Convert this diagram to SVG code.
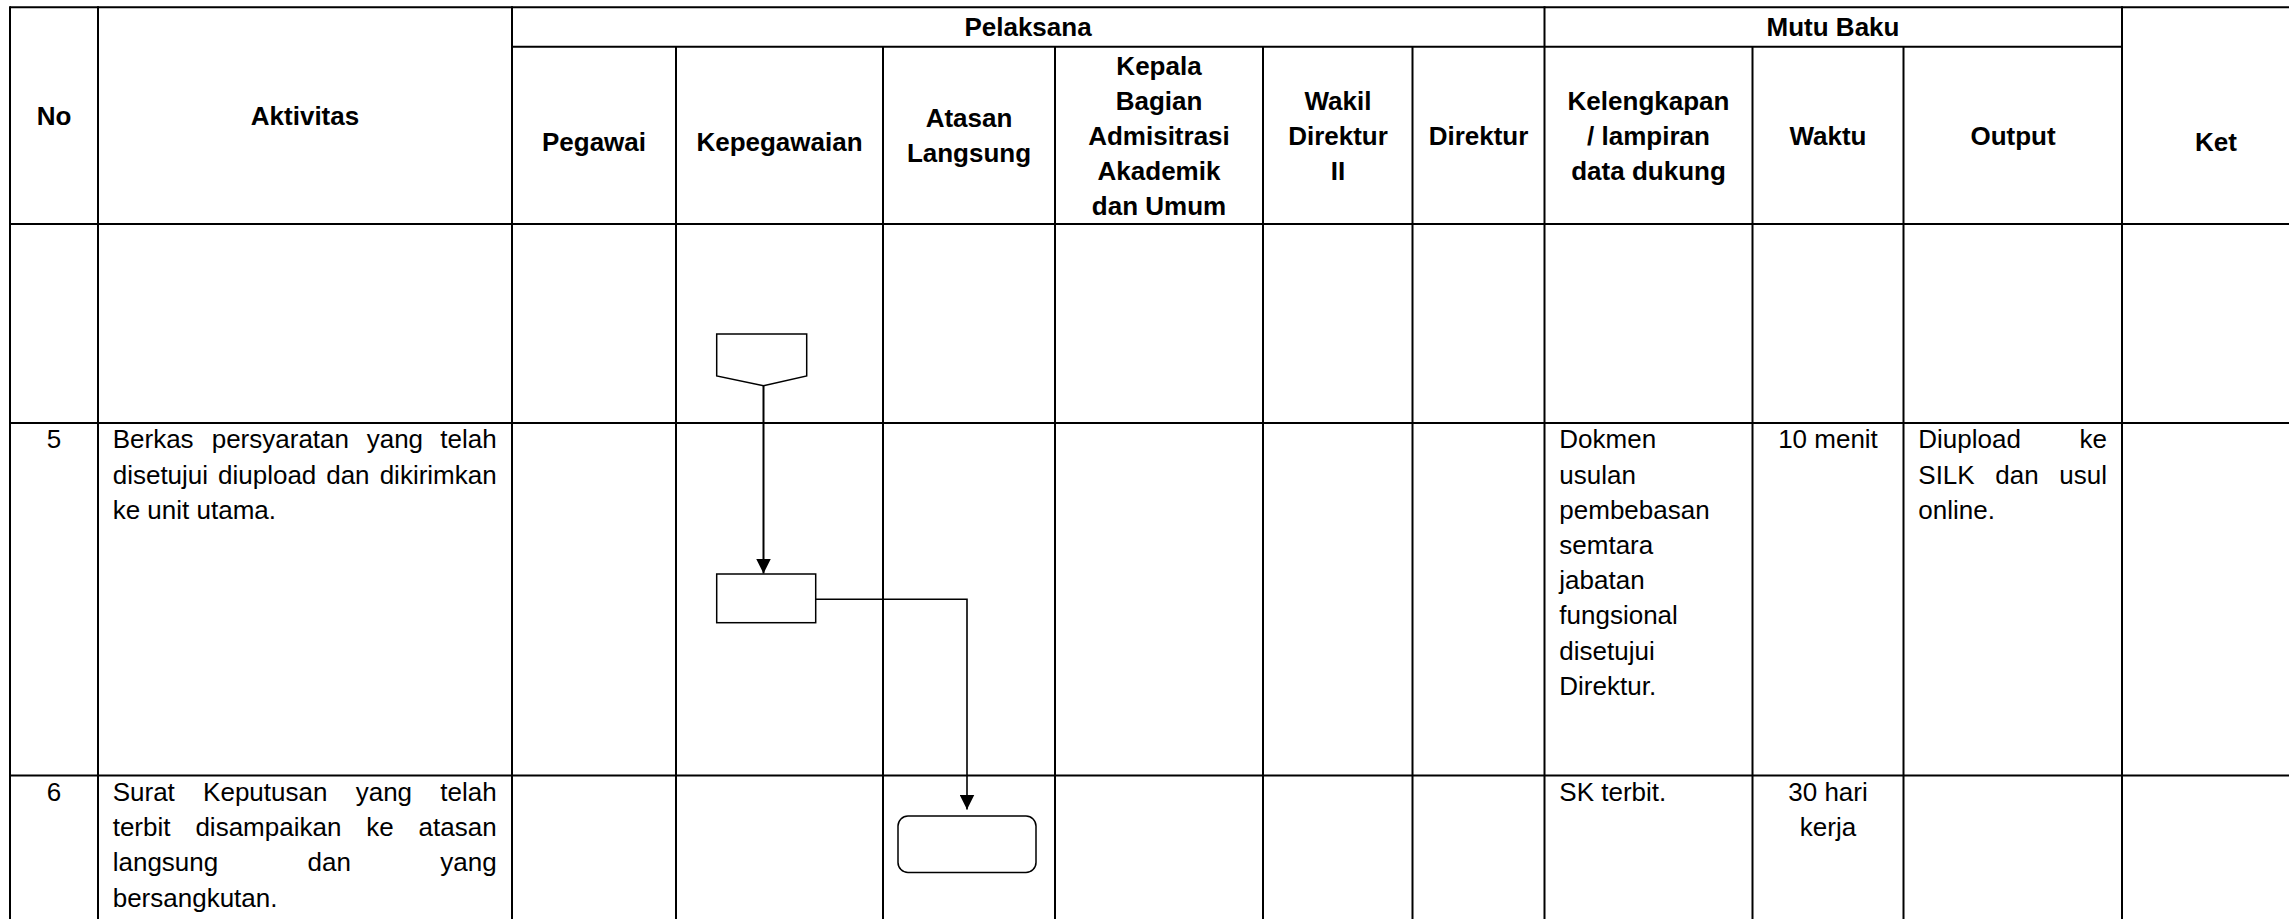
<svg xmlns="http://www.w3.org/2000/svg" width="2289" height="919" viewBox="0 0 2289 919">
<style>
.g{stroke:#000;stroke-width:2;fill:none}
.h{font-family:"Liberation Sans",Arial,sans-serif;font-size:26px;font-weight:bold;text-anchor:middle;fill:#000}
.t{font-family:"Liberation Sans",Arial,sans-serif;font-size:26px;fill:#000}
.c{text-anchor:middle}
.e{text-anchor:end}
.s{fill:#fff;stroke:#000;stroke-width:1.5}
.k{fill:none;stroke:#000;stroke-width:2}
</style>
<defs>
<marker id="ah" viewBox="0 0 10 10" refX="10" refY="5" markerWidth="15" markerHeight="15" markerUnits="userSpaceOnUse" orient="auto">
<path d="M0,0 L10,5 L0,10 z" fill="#000"/>
</marker>
</defs>
<rect width="2289" height="919" fill="#fff"/>
<g id="grid">
<line class="g" x1="10" y1="7.3" x2="2289" y2="7.3"/>
<line class="g" x1="512" y1="46.7" x2="2122" y2="46.7"/>
<line class="g" x1="10" y1="224" x2="2289" y2="224"/>
<line class="g" x1="10" y1="423" x2="2289" y2="423"/>
<line class="g" x1="10" y1="775.5" x2="2289" y2="775.5"/>
<line class="g" x1="10" y1="6.3" x2="10" y2="919"/>
<line class="g" x1="98" y1="6.3" x2="98" y2="919"/>
<line class="g" x1="512" y1="6.3" x2="512" y2="919"/>
<line class="g" x1="676" y1="46.7" x2="676" y2="919"/>
<line class="g" x1="883" y1="46.7" x2="883" y2="919"/>
<line class="g" x1="1055" y1="46.7" x2="1055" y2="919"/>
<line class="g" x1="1263" y1="46.7" x2="1263" y2="919"/>
<line class="g" x1="1412.5" y1="46.7" x2="1412.5" y2="919"/>
<line class="g" x1="1544.5" y1="6.3" x2="1544.5" y2="919"/>
<line class="g" x1="1752.5" y1="46.7" x2="1752.5" y2="919"/>
<line class="g" x1="1903.5" y1="46.7" x2="1903.5" y2="919"/>
<line class="g" x1="2122" y1="6.3" x2="2122" y2="919"/>
</g>
<g id="header">
<text class="h" x="54" y="124.5">No</text>
<text class="h" x="305" y="124.5">Aktivitas</text>
<text class="h" x="1028" y="36">Pelaksana</text>
<text class="h" x="1833" y="36">Mutu Baku</text>
<text class="h" x="2216" y="150.5">Ket</text>
<text class="h" x="594" y="150.5">Pegawai</text>
<text class="h" x="779.5" y="150.5">Kepegawaian</text>
<text class="h" x="969" y="127">Atasan</text>
<text class="h" x="969" y="162">Langsung</text>
<text class="h" x="1159" y="74.5">Kepala</text>
<text class="h" x="1159" y="109.5">Bagian</text>
<text class="h" x="1159" y="144.5">Admisitrasi</text>
<text class="h" x="1159" y="179.5">Akademik</text>
<text class="h" x="1159" y="214.5">dan Umum</text>
<text class="h" x="1338" y="109.5">Wakil</text>
<text class="h" x="1338" y="144.5">Direktur</text>
<text class="h" x="1338" y="179.5">II</text>
<text class="h" x="1478.5" y="144.5">Direktur</text>
<text class="h" x="1648.5" y="109.5">Kelengkapan</text>
<text class="h" x="1648.5" y="144.5">/ lampiran</text>
<text class="h" x="1648.5" y="179.5">data dukung</text>
<text class="h" x="1828" y="144.5">Waktu</text>
<text class="h" x="2013" y="144.5">Output</text>
</g>
<g id="row5">
<text class="t c" x="54" y="448.3">5</text>
<text class="t" y="448.3"><tspan x="112.7">Berkas</tspan><tspan x="211.7">persyaratan</tspan><tspan x="366.7">yang</tspan></text>
<text class="t e" x="496.7" y="448.3">telah</text>
<text class="t" y="483.5"><tspan x="112.7">disetujui</tspan><tspan x="218">diupload</tspan><tspan x="326.2">dan</tspan></text>
<text class="t e" x="496.7" y="483.5">dikirimkan</text>
<text class="t" x="112.7" y="518.7">ke unit utama.</text>
<text class="t" x="1559.3" y="448.3">Dokmen</text>
<text class="t" x="1559.3" y="483.5">usulan</text>
<text class="t" x="1559.3" y="518.7">pembebasan</text>
<text class="t" x="1559.3" y="553.9">semtara</text>
<text class="t" x="1559.3" y="589.1">jabatan</text>
<text class="t" x="1559.3" y="624.3">fungsional</text>
<text class="t" x="1559.3" y="659.5">disetujui</text>
<text class="t" x="1559.3" y="694.7">Direktur.</text>
<text class="t c" x="1828" y="448.3">10 menit</text>
<text class="t" x="1918.3" y="448.3">Diupload</text>
<text class="t e" x="2107" y="448.3">ke</text>
<text class="t" y="483.5"><tspan x="1918.3">SILK</tspan><tspan x="1995.3">dan</tspan></text>
<text class="t e" x="2107" y="483.5">usul</text>
<text class="t" x="1918.3" y="518.7">online.</text>
</g>
<g id="row6">
<text class="t c" x="54" y="801">6</text>
<text class="t" y="801"><tspan x="112.7">Surat</tspan><tspan x="203.1">Keputusan</tspan><tspan x="355.7">yang</tspan></text>
<text class="t e" x="496.7" y="801">telah</text>
<text class="t" y="836.2"><tspan x="112.7">terbit</tspan><tspan x="195.4">disampaikan</tspan><tspan x="366.2">ke</tspan></text>
<text class="t e" x="496.7" y="836.2">atasan</text>
<text class="t" y="871.4"><tspan x="112.7">langsung</tspan><tspan x="307.6">dan</tspan></text>
<text class="t e" x="496.7" y="871.4">yang</text>
<text class="t" x="112.7" y="906.6">bersangkutan.</text>
<text class="t" x="1559.3" y="801">SK terbit.</text>
<text class="t c" x="1828" y="801">30 hari</text>
<text class="t c" x="1828" y="836.2">kerja</text>
</g>
<g id="connectors">
<line class="k" x1="763.5" y1="385.7" x2="763.5" y2="573.5" marker-end="url(#ah)"/>
<path class="k" style="stroke-width:1.6" d="M815.7,599.3 H967 V809.5" marker-end="url(#ah)"/>
</g>
<g id="node-offpage">
<path class="s" d="M716.7,334 H806.7 V376 L763.5,385.7 L716.7,376 Z"/>
</g>
<g id="node-process">
<rect class="s" x="716.7" y="574" width="99" height="48.7"/>
</g>
<g id="node-terminator">
<rect class="s" x="898" y="816" width="138" height="56.5" rx="10" ry="10"/>
</g>
</svg>
